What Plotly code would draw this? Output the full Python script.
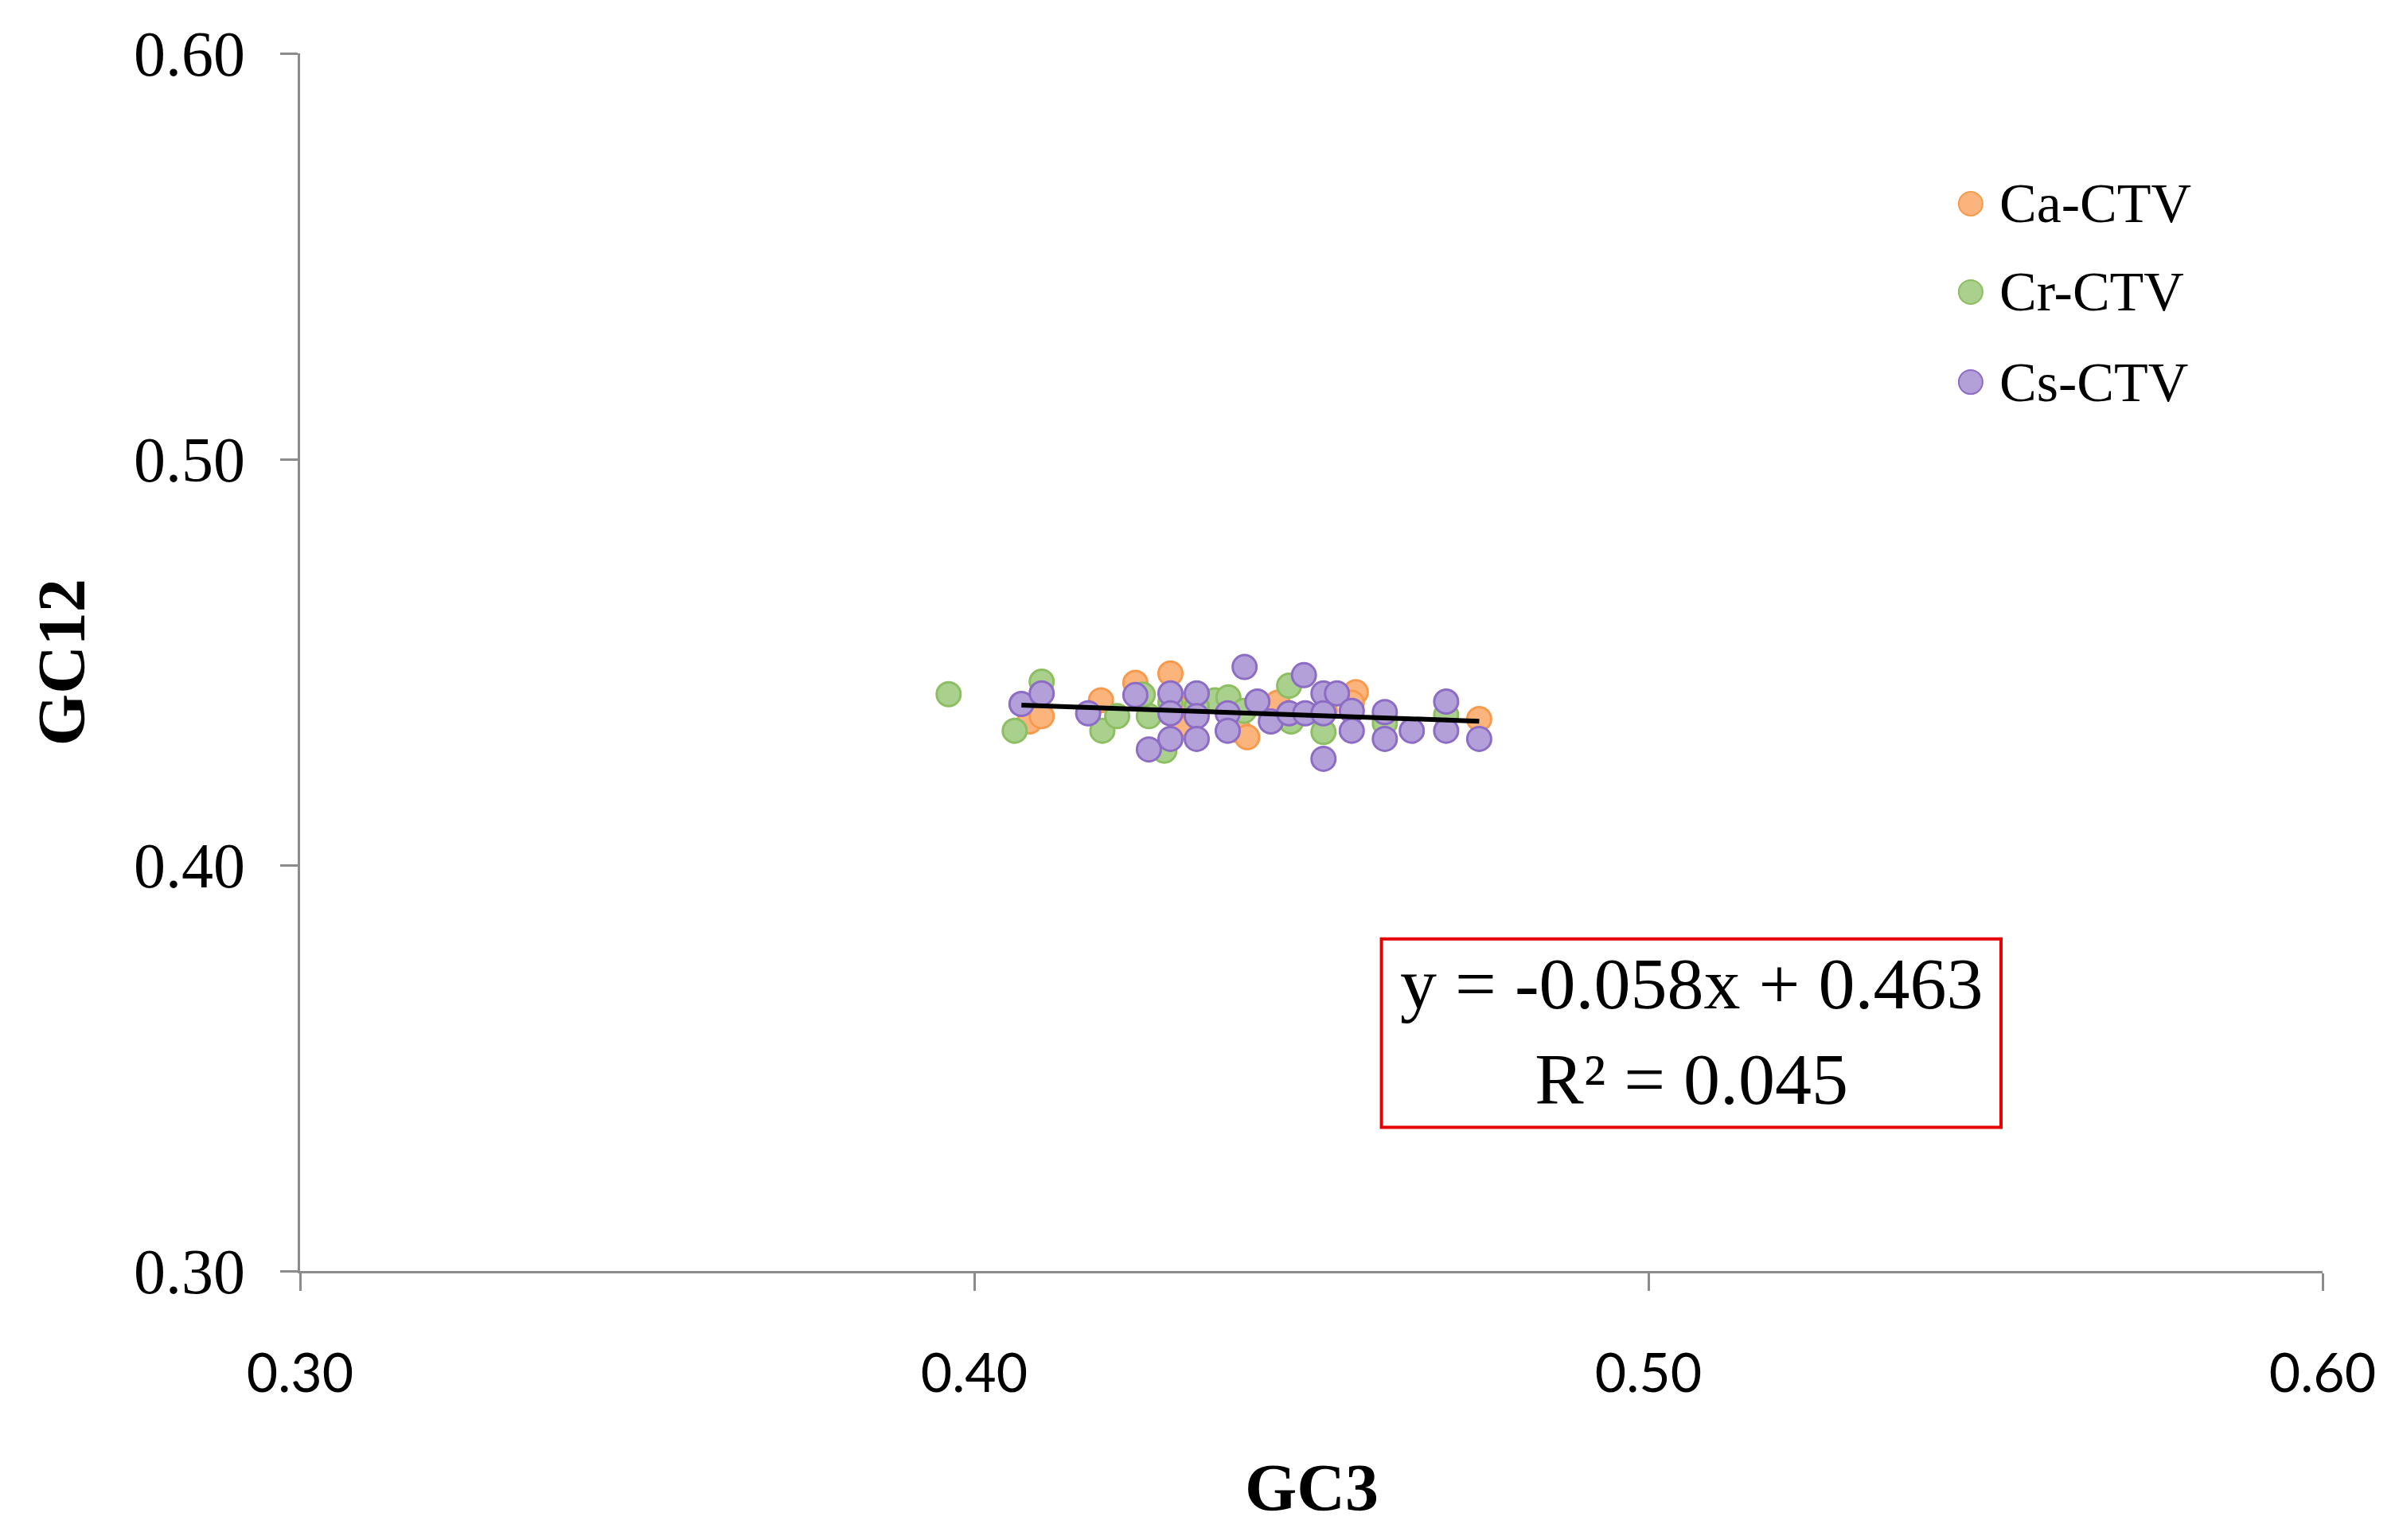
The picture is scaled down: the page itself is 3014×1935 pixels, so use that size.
import plotly.graph_objects as go

# GC3 / GC12 values
ca_gc3 = [0.4082, 0.4100, 0.4188, 0.4239, 0.4291, 0.4306, 0.4300, 0.4393, 0.4405,
          0.4450, 0.4566, 0.4560, 0.4749, 0.4520]
ca_gc12 = [0.4354, 0.4367, 0.4406, 0.4449, 0.4472, 0.4347, 0.4390, 0.4331, 0.4315,
           0.4400, 0.4426, 0.4400, 0.4360, 0.4380]

cr_gc3 = [0.3962, 0.4060, 0.4100, 0.4190, 0.4212, 0.4259, 0.4250, 0.4282, 0.4291,
          0.4357, 0.4377, 0.4400, 0.4467, 0.4470, 0.4518, 0.4609, 0.4700, 0.4330]
cr_gc12 = [0.4421, 0.4331, 0.4452, 0.4331, 0.4367, 0.4367, 0.4420, 0.4282, 0.4400,
           0.4406, 0.4413, 0.4380, 0.4442, 0.4354, 0.4328, 0.4350, 0.4370, 0.4390]

cs_gc3 = [0.4070, 0.4100, 0.4169, 0.4239, 0.4259, 0.4291, 0.4291, 0.4291, 0.4330,
          0.4330, 0.4330, 0.4376, 0.4376, 0.4401, 0.4420, 0.4440, 0.4467, 0.4489,
          0.4491, 0.4518, 0.4538, 0.4518, 0.4518, 0.4560, 0.4560, 0.4609, 0.4609,
          0.4649, 0.4700, 0.4700, 0.4749]
cs_gc12 = [0.4397, 0.4423, 0.4374, 0.4419, 0.4285, 0.4423, 0.4374, 0.4311, 0.4423,
           0.4367, 0.4311, 0.4374, 0.4331, 0.4488, 0.4403, 0.4354, 0.4374, 0.4468,
           0.4374, 0.4423, 0.4423, 0.4374, 0.4262, 0.4380, 0.4331, 0.4377, 0.4311,
           0.4331, 0.4403, 0.4331, 0.4311]

series_names = ["Ca-CTV", "Cr-CTV", "Cs-CTV"]
fill_colors = ["#FCB47D", "#AAD08E", "#B4A0D8"]
line_colors = ["#F79A4E", "#8DBF62", "#8C6CC4"]

slope = -0.058
intercept = 0.463
r2 = 0.045

tick_vals = [0.30, 0.40, 0.50, 0.60]

fig = go.Figure()

xs = [ca_gc3, cr_gc3, cs_gc3]
ys = [ca_gc12, cr_gc12, cs_gc12]
for name, x, y, fc, lc in zip(series_names, xs, ys, fill_colors, line_colors):
    fig.add_trace(go.Scatter(
        x=x, y=y, mode="markers", name=name, showlegend=False,
        marker=dict(size=30, color=fc, line=dict(color=lc, width=3)),
    ))

# linear trendline over the Cs-CTV range
x_fit = [min(cs_gc3), max(cs_gc3)]
y_fit = [slope * v + intercept for v in x_fit]
fig.add_trace(go.Scatter(x=x_fit, y=y_fit, mode="lines", showlegend=False,
                         line=dict(color="black", width=6)))

# legend drawn by hand so the markers keep their size
legend_y = [0.8765, 0.804, 0.730]
for name, fc, lc, ly in zip(series_names, fill_colors, line_colors, legend_y):
    fig.add_shape(type="circle", xref="paper", yref="paper",
                  xsizemode="pixel", ysizemode="pixel",
                  xanchor=0.826, yanchor=ly, x0=-15, x1=15, y0=-15, y1=15,
                  fillcolor=fc, line=dict(color=lc, width=2))
    fig.add_annotation(x=0.8394, y=ly, xref="paper", yref="paper",
                       xanchor="left", yanchor="middle", showarrow=False,
                       text=name, font=dict(family="Liberation Serif", size=70, color="black"))

# equation box
fig.add_shape(type="rect", xref="x", yref="y", x0=0.4604, x1=0.5523, y0=0.3354, y1=0.3818,
              line=dict(color="#E60000", width=4), fillcolor="white", layer="below")
fig.add_annotation(x=0.5064, y=0.3590, xref="x", yref="y", showarrow=False,
                   text=f"y = {slope:.3f}x + {intercept:.3f}<br>R² = {r2:.3f}",
                   font=dict(family="Liberation Serif", size=92, color="black"))

# axis titles
fig.add_annotation(x=0.5, y=-0.1784, xref="paper", yref="paper", showarrow=False,
                   yanchor="middle", text="<b>GC3</b>",
                   font=dict(family="Liberation Serif", size=84, color="black"))
fig.add_annotation(x=-0.118, y=0.5, xref="paper", yref="paper", showarrow=False,
                   xanchor="center", textangle=-90, text="<b>GC12</b>",
                   font=dict(family="Liberation Serif", size=84, color="black"))

fig.update_xaxes(
    range=[0.30, 0.60], tickvals=tick_vals, tickformat=".2f",
    showline=True, linecolor="#8c8c8c", linewidth=3,
    ticks="outside", ticklen=22, tickwidth=3, tickcolor="#8c8c8c",
    showgrid=False, zeroline=False, ticklabelstandoff=45,
    tickfont=dict(family="Lato", size=68, color="black"),
)
fig.update_yaxes(
    range=[0.30, 0.60], tickvals=tick_vals, tickformat=".2f",
    showline=True, linecolor="#8c8c8c", linewidth=3,
    ticks="outside", ticklen=22, tickwidth=3, tickcolor="#8c8c8c",
    showgrid=False, zeroline=False, ticklabelstandoff=28,
    tickfont=dict(family="Liberation Serif", size=80, color="black"),
)

fig.update_layout(
    width=3014, height=1935,
    margin=dict(l=369, r=104, t=59, b=346, pad=0),
    plot_bgcolor="white", paper_bgcolor="white",
    font=dict(family="Liberation Serif", color="black"),
    showlegend=False,
)

fig.write_html("out.html")
